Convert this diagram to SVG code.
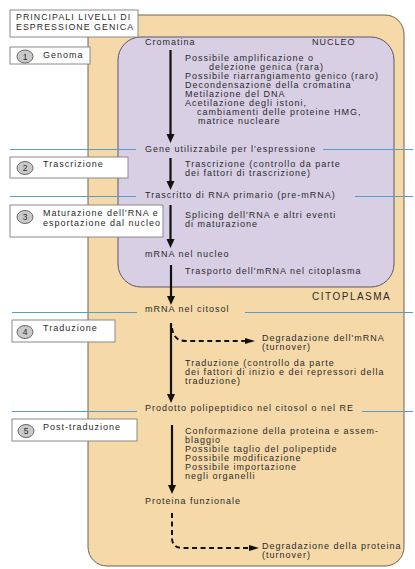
<svg xmlns="http://www.w3.org/2000/svg" width="415" height="569" viewBox="0 0 415 569">
<defs>
<style>
.t{font-family:"Liberation Sans",Arial,sans-serif;font-size:9px;letter-spacing:1px;fill:#2b2b2b}
.h{font-family:"Liberation Sans",Arial,sans-serif;font-size:8.8px;letter-spacing:1.05px;fill:#2b2b2b}
.big{font-family:"Liberation Sans",Arial,sans-serif;font-size:10px;letter-spacing:1.5px;fill:#2b2b2b}
.num{font-family:"Liberation Sans",Arial,sans-serif;font-size:8.5px;fill:#2b2b2b;text-anchor:middle}
.box{fill:#ffffff;stroke:#8a8a8a;stroke-width:1}
.circ{fill:#c9c9c9;stroke:#5a5a5a;stroke-width:0.9}
.blue{stroke:#5d9cc2;stroke-width:1.1;fill:none}
.arr{stroke:#111;stroke-width:2.2;fill:none}
.dash{stroke:#111;stroke-width:2;fill:none;stroke-dasharray:5 3.5}
</style>
<marker id="ah" markerUnits="userSpaceOnUse" markerWidth="10" markerHeight="9" refX="0" refY="4" orient="auto">
<path d="M0,0 L9,4 L0,8 z" fill="#111"/>
</marker>
<marker id="ahd" markerUnits="userSpaceOnUse" markerWidth="11" markerHeight="7" refX="0" refY="3" orient="auto">
<path d="M0,0 L10,3 L0,6 z" fill="#111"/>
</marker>
</defs>

<g id="citoplasma">
<rect x="88" y="15" width="316" height="551" rx="19" ry="19" fill="#f6d9a9" stroke="#6e6252" stroke-width="1"/>
<text class="big" x="312" y="300">CITOPLASMA</text>
</g>
<g id="nucleo">
<rect x="118" y="37" width="276" height="250" rx="23" ry="23" fill="#d8cfe5" stroke="#5c5668" stroke-width="1"/>
<text class="t" x="312" y="45">NUCLEO</text>
</g>

<g id="separatori">
<line class="blue" x1="10" y1="149.5" x2="136" y2="149.5"/>
<line class="blue" x1="323" y1="149.5" x2="413" y2="149.5"/>
<line class="blue" x1="10" y1="196.5" x2="136" y2="196.5"/>
<line class="blue" x1="355" y1="196.5" x2="413" y2="196.5"/>
<line class="blue" x1="12" y1="312.5" x2="137" y2="312.5"/>
<line class="blue" x1="245" y1="312.5" x2="413" y2="312.5"/>
<line class="blue" x1="12" y1="411.5" x2="137" y2="411.5"/>
<line class="blue" x1="362" y1="411.5" x2="413" y2="411.5"/>
</g>

<g id="titolo">
<rect class="box" x="10" y="10" width="128" height="27"/>
<text class="h" x="16" y="20">PRINCIPALI LIVELLI DI</text>
<text class="h" x="16" y="29.5">ESPRESSIONE GENICA</text>
</g>

<g id="livello1">
<rect class="box" x="10" y="47" width="80" height="17"/>
<ellipse class="circ" cx="25" cy="56.5" rx="8" ry="6.5"/>
<text class="num" x="25" y="59.5">1</text>
<text class="t" x="43" y="58">Genoma</text>
</g>
<g id="livello2">
<rect class="box" x="10" y="157" width="118" height="21"/>
<ellipse class="circ" cx="25" cy="168" rx="8" ry="6.5"/>
<text class="num" x="25" y="171">2</text>
<text class="t" x="43" y="167">Trascrizione</text>
</g>
<g id="livello3">
<rect class="box" x="10" y="205" width="153" height="32"/>
<ellipse class="circ" cx="25" cy="217" rx="8" ry="6.5"/>
<text class="num" x="25" y="220">3</text>
<text class="t" x="43" y="216">Maturazione dell'RNA e</text>
<text class="t" x="43" y="226">esportazione dal nucleo</text>
</g>
<g id="livello4">
<rect class="box" x="12" y="320" width="103" height="22"/>
<ellipse class="circ" cx="25" cy="332" rx="8" ry="6.5"/>
<text class="num" x="25" y="335">4</text>
<text class="t" x="43" y="331">Traduzione</text>
</g>
<g id="livello5">
<rect class="box" x="12" y="419" width="125" height="22"/>
<ellipse class="circ" cx="26" cy="431" rx="8" ry="6.5"/>
<text class="num" x="26" y="434">5</text>
<text class="t" x="43" y="430">Post-traduzione</text>
</g>

<g id="stati">
<text class="t" x="145" y="45">Cromatina</text>
<text class="t" x="145" y="152">Gene utilizzabile per l'espressione</text>
<text class="t" x="145" y="198">Trascritto di RNA primario (pre-mRNA)</text>
<text class="t" x="145" y="257">mRNA nel nucleo</text>
<text class="t" x="145" y="312">mRNA nel citosol</text>
<text class="t" x="145" y="411">Prodotto polipeptidico nel citosol o nel RE</text>
<text class="t" x="145" y="504">Proteina funzionale</text>
</g>

<g id="note">
<text class="t" x="185" y="61">Possibile amplificazione o</text>
<text class="t" x="209" y="70">delezione genica (rara)</text>
<text class="t" x="185" y="79">Possibile riarrangiamento genico (raro)</text>
<text class="t" x="185" y="88">Decondensazione della cromatina</text>
<text class="t" x="185" y="97">Metilazione del DNA</text>
<text class="t" x="185" y="106">Acetilazione degli istoni,</text>
<text class="t" x="197" y="115">cambiamenti delle proteine HMG,</text>
<text class="t" x="198" y="124">matrice nucleare</text>
<text class="t" x="185" y="167">Trascrizione (controllo da parte</text>
<text class="t" x="185" y="176">dei fattori di trascrizione)</text>
<text class="t" x="185" y="218">Splicing dell'RNA e altri eventi</text>
<text class="t" x="185" y="227">di maturazione</text>
<text class="t" x="185" y="274">Trasporto dell'mRNA nel citoplasma</text>
<text class="t" x="262" y="341">Degradazione dell'mRNA</text>
<text class="t" x="262" y="350">(turnover)</text>
<text class="t" x="185" y="366">Traduzione (controllo da parte</text>
<text class="t" x="185" y="375">dei fattori di inizio e dei repressori della</text>
<text class="t" x="185" y="384">traduzione)</text>
<text class="t" x="185" y="434">Conformazione della proteina e assem-</text>
<text class="t" x="185" y="443">blaggio</text>
<text class="t" x="185" y="452">Possibile taglio del polipeptide</text>
<text class="t" x="185" y="461">Possibile modificazione</text>
<text class="t" x="185" y="470">Possibile importazione</text>
<text class="t" x="185" y="479">negli organelli</text>
<text class="t" x="262" y="549">Degradazione della proteina</text>
<text class="t" x="262" y="558">(turnover)</text>
</g>

<g id="connettori">
<line class="arr" x1="170.5" y1="50" x2="170.5" y2="134" marker-end="url(#ah)"/>
<line class="arr" x1="170.5" y1="158" x2="170.5" y2="181" marker-end="url(#ah)"/>
<line class="arr" x1="170.5" y1="205" x2="170.5" y2="239" marker-end="url(#ah)"/>
<line class="arr" x1="171" y1="265" x2="171" y2="296" marker-end="url(#ah)"/>
<line class="arr" x1="171" y1="323" x2="171" y2="394" marker-end="url(#ah)"/>
<line class="arr" x1="172" y1="425" x2="172" y2="485" marker-end="url(#ah)"/>
<path class="dash" d="M172,328 C173,336 177,341 186,341 L245,341" marker-end="url(#ahd)"/>
<path class="dash" d="M172,513 L172,538 Q172,548 183,548 L249,548" marker-end="url(#ahd)"/>
</g>
</svg>
